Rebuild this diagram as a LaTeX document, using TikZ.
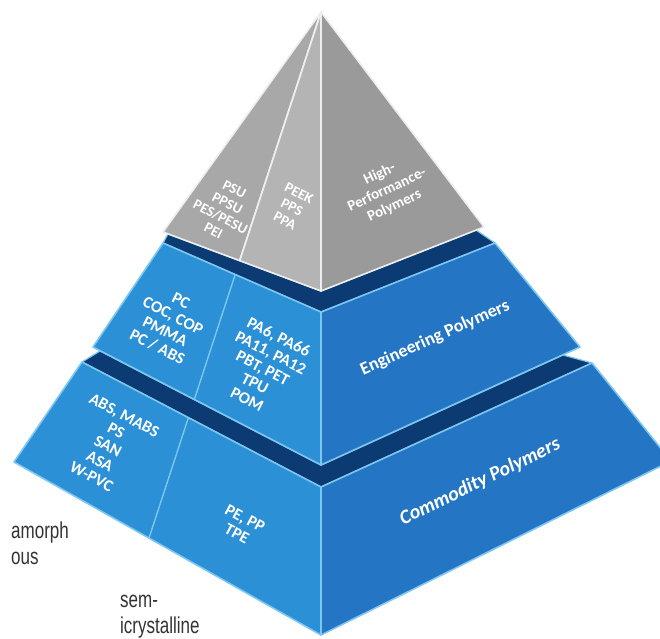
\documentclass[tikz,border=0pt]{standalone}
\usepackage{fontspec}
\setmainfont{Carlito}
\newfontfamily\tagfont{Carlito}
\newfontfamily\narrowfont[FakeStretch=0.74]{Liberation Sans}

\definecolor{faceL}{RGB}{43,144,214}
\definecolor{faceR}{RGB}{36,117,196}
\definecolor{topnavy}{RGB}{11,59,114}
\definecolor{edgeblue}{RGB}{125,198,240}
\definecolor{grayL}{RGB}{168,168,168}
\definecolor{grayM}{RGB}{180,180,180}
\definecolor{grayR}{RGB}{154,154,154}
\definecolor{grayedge}{RGB}{238,238,238}
\definecolor{captiongray}{RGB}{51,51,51}

\tikzset{
  bluefaceL/.style={fill=faceL, draw=edgeblue, line width=1.6pt, line join=round},
  bluefaceR/.style={fill=faceR, draw=edgeblue, line width=1.6pt, line join=round},
  topband/.style={fill=topnavy, draw=edgeblue, line width=1.2pt, line join=round},
  bluediv/.style={draw=edgeblue, line width=1.4pt},
  grayface/.style={draw=grayedge, line width=1.6pt, line join=round},
  graydiv/.style={draw=grayedge, line width=1.2pt},
  graytag/.style={text=white, align=center, inner sep=0pt,
    font=\tagfont\bfseries\fontsize{14.5}{15.4}\selectfont},
  bluetag/.style={text=white, align=center, inner sep=0pt,
    font=\tagfont\bfseries\fontsize{16.5}{17.4}\selectfont},
  titletag/.style={text=white, align=center, inner sep=0pt,
    font=\tagfont\bfseries\fontsize{18}{20}\selectfont},
  captiontext/.style={text=captiongray, inner sep=0pt, anchor=base west,
    font=\narrowfont\fontsize{23}{26}\selectfont}
}

\begin{document}
\begin{tikzpicture}[x=1pt,y=-1pt]
\useasboundingbox (0,0) rectangle (660,638);
\clip (0,0) rectangle (660,638);

% key points of the three tiers
\coordinate (A) at (321,12);
\coordinate (Dz) at (149,538);
% top tier (grey)
\coordinate (GL) at (163,232);
\coordinate (GF) at (321,291);
\coordinate (GR) at (484,227);
% middle tier
\coordinate (EL) at (163,243);
\coordinate (EF) at (321,312);
\coordinate (ER) at (495,243);
\coordinate (EBL) at (93,347);
\coordinate (EBF) at (321,465);
\coordinate (EBR) at (580,347);
% bottom tier
\coordinate (CL) at (82,362);
\coordinate (CF) at (321,487);
\coordinate (CR) at (592,363);
\coordinate (CBL) at (14,462);
\coordinate (CBF) at (321,635);
\coordinate (CBR) at (671,461);

% divider points on the left faces
\coordinate (GD) at (intersection of A--Dz and GL--GF);
\coordinate (ED1) at (intersection of A--Dz and EL--EF);
\coordinate (ED2) at (intersection of A--Dz and EBL--EBF);
\coordinate (CD1) at (intersection of A--Dz and CL--CF);
\coordinate (CD2) at (intersection of A--Dz and CBL--CBF);

% bottom tier
\path[topband] (CL) -- (100,351) -- (EBF) -- (563,355) -- (CR) -- (CF) -- cycle;
\path[bluefaceL] (CL) -- (CF) -- (CBF) -- (CBL) -- cycle;
\path[bluefaceR] (CF) -- (CR) -- (CBR) -- (CBF) -- cycle;
\draw[bluediv] (CD1) -- (CD2);

% middle tier
\path[topband] (EL) -- (168,234) -- (GF) -- (476,230) -- (ER) -- (EF) -- cycle;
\path[bluefaceL] (EL) -- (EF) -- (EBF) -- (EBL) -- cycle;
\path[bluefaceR] (EF) -- (ER) -- (EBR) -- (EBF) -- cycle;
\draw[bluediv] (ED1) -- (ED2);

% top tier
\path[grayface, fill=grayL] (A) -- (GL) -- (GD) -- cycle;
\path[grayface, fill=grayM] (A) -- (GD) -- (GF) -- cycle;
\path[grayface, fill=grayR] (A) -- (GF) -- (GR) -- cycle;
\draw[graydiv] (A) -- (GD);
\draw[grayedge, line width=2pt] (A) -- (GF);

% labels of the top tier
\node[graytag, rotate=-27] (hpA) at (224,210) {PSU\\PPSU\\PES/PESU\\PEI};
\node[graytag, rotate=-27] (hpB) at (292,207) {PEEK\\PPS\\PPA};
\node[graytag, rotate=25, font=\tagfont\bfseries\fontsize{15}{17.5}\selectfont]
  (hpT) at (387,190) {High-\\Performance-\\Polymers};

% labels of the middle tier
\node[bluetag, rotate=-27] (epA) at (169,324) {PC\\COC, COP\\PMMA\\PC / ABS};
\node[bluetag, rotate=-27] (epB) at (263,368) {PA6, PA66\\PA11, PA12\\PBT, PET\\TPU\\POM};
\node[titletag, rotate=24] (epT) at (435,338) {Engineering Polymers};

% labels of the bottom tier
\node[bluetag, rotate=-28] (cpA) at (108,446) {ABS, MABS\\PS\\SAN\\ASA\\W-PVC};
\node[bluetag, rotate=-28] (cpB) at (241,526) {PE, PP\\TPE};
\node[titletag, rotate=26, font=\tagfont\bfseries\itshape\fontsize{20}{22}\selectfont]
  (cpT) at (480,482) {Commodity Polymers};

% captions beside the pyramid
\node[captiontext] (amA) at (11,538) {amorph};
\node[captiontext] (amB) at (11,564) {ous};
\node[captiontext] (scA) at (120,607) {sem-};
\node[captiontext] (scB) at (120,633) {icrystalline};
\end{tikzpicture}
\end{document}
